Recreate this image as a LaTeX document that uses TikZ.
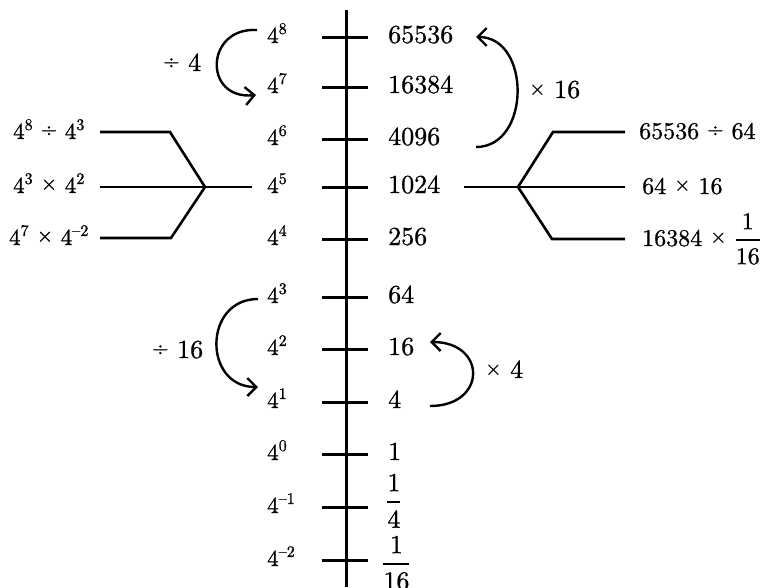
\documentclass[tikz,border=0pt]{standalone}
\usepackage{amsmath}
\usepackage{fontspec}
\setmainfont{lmroman10-regular.otf}[FakeBold=0.9]
\usetikzlibrary{arrows.meta}
\newcommand\pw[2]{4\textsuperscript{#2}}
\newcommand\tms{\raisebox{3pt}{\fontsize{21}{21}\selectfont ×}}
\newcommand\dvd{\raisebox{3pt}{\fontsize{21}{21}\selectfont ÷}}
\newcommand\frc[2]{$\genfrac{}{}{2.4pt}{0}{\text{#1}}{\text{#2}}$}
\begin{document}
\begin{tikzpicture}[x=1pt,y=-1pt,
  lab/.style={inner sep=0pt,font=\fontsize{26}{30}\selectfont},
  side/.style={inner sep=0pt,font=\fontsize{24}{28}\selectfont},
  pow/.style={inner sep=0pt,font=\fontsize{23}{27}\selectfont},
  axisline/.style={line width=3pt},
  tickline/.style={line width=3pt},
  branch/.style={line width=2.6pt},
  arr/.style={line width=2.4pt,-{Straight Barb[length=9pt,width=18pt]}}]
\useasboundingbox (0,0) rectangle (762,587);
% axis
\coordinate (top) at (346,10);
\coordinate (bot) at (346,587);
\draw[axisline] (top) -- (bot);
% ticks
\foreach \n/\yy in {8/37,7/87,6/139,5/187,4/239,3/297,2/349,1/402,0/454,m1/507,m2/560}{
  \coordinate (t\n) at (346,\yy);
  \draw[tickline] ([xshift=-24pt]t\n) -- ([xshift=22pt]t\n);
}
% left power labels
\node[pow,anchor=base west] (l8) at (267,43) {\pw{4}{8}};
\node[pow,anchor=base west] (l7) at (267,93) {\pw{4}{7}};
\node[pow,anchor=base west] (l6) at (267,145) {\pw{4}{6}};
\node[pow,anchor=base west] (l5) at (267,193) {\pw{4}{5}};
\node[pow,anchor=base west] (l4) at (267,245) {\pw{4}{4}};
\node[pow,anchor=base west] (l3) at (267,303) {\pw{4}{3}};
\node[pow,anchor=base west] (l2) at (267,355) {\pw{4}{2}};
\node[pow,anchor=base west] (l1) at (267,408) {\pw{4}{1}};
\node[pow,anchor=base west] (l0) at (267,460) {\pw{4}{0}};
\node[pow,anchor=base west] (lm1) at (267,513) {\pw{4}{\textendash1}};
\node[pow,anchor=base west] (lm2) at (267,566) {\pw{4}{\textendash2}};
% right value labels
\node[lab,anchor=base west] (r8) at (388,43) {65536};
\node[lab,anchor=base west] (r7) at (388,93) {16384};
\node[lab,anchor=base west] (r6) at (388,145) {4096};
\node[lab,anchor=base west] (r5) at (388,193) {1024};
\node[lab,anchor=base west] (r4) at (388,245) {256};
\node[lab,anchor=base west] (r3) at (388,303) {64};
\node[lab,anchor=base west] (r2) at (388,355) {16};
\node[lab,anchor=base west] (r1) at (388,408) {4};
\node[lab,anchor=base west] (r0) at (388,460) {1};
\node[lab,anchor=base west] (rm1) at (386,508) {\frc{1}{4}};
\node[lab,anchor=base west] (rm2) at (382,570) {\frc{1}{16}};
% curved arrows
\draw[arr] ([shift={(-10,-13)}]l8.base west) .. controls +(-52,-3) and +(-53,5) .. ([shift={(-11,2)}]l7.base west);
\node[lab,anchor=base west] (d4) at (163,71) {\dvd{} 4};
\draw[arr] ([shift={(88,2)}]r6.base west) .. controls +(55,0) and +(55,0) .. ([shift={(88,-6)}]r8.base west);
\node[lab,anchor=base west] (m16) at (529,98) {\tms{} 16};
\draw[arr] ([shift={(-9,-4)}]l3.base west) .. controls +(-55,0) and +(-55,0) .. ([shift={(-9,-21)}]l1.base west);
\node[lab,anchor=base west] (d16) at (152,358) {\dvd{} 16};
\draw[arr] ([shift={(42,-2)}]r1.base west) .. controls +(57,0) and +(57,0) .. ([shift={(42,-13)}]r2.base west);
\node[lab,anchor=base west] (m4) at (485,378) {\tms{} 4};
% left branch
\node[pow,anchor=base] (bl1) at (49,139) {\pw{4}{8} \dvd{} \pw{4}{3}};
\node[pow,anchor=base] (bl2) at (49,193) {\pw{4}{3} \tms{} \pw{4}{2}};
\node[pow,anchor=base] (bl3) at (49,245) {\pw{4}{7} \tms{} \pw{4}{\textendash2}};
\coordinate (lj) at (205,187);
\coordinate (la1) at (100,132);
\coordinate (lb1) at (170,132);
\coordinate (la2) at (100,187);
\coordinate (lb2) at (252,187);
\coordinate (la3) at (100,238);
\coordinate (lb3) at (171,238);
\draw[branch] (la1) -- (lb1) -- (lj);
\draw[branch] (la2) -- (lb2);
\draw[branch] (la3) -- (lb3) -- (lj);
% right branch
\node[side,anchor=base west] (br1) at (639,139) {65536 \dvd{} 64};
\node[side,anchor=base west] (br2) at (642,194) {64 \tms{} 16};
\node[side,anchor=base west] (br3) at (642,246) {16384 \tms{} \frc{1}{16}};
\coordinate (rj) at (518,187);
\coordinate (ra2) at (464,187);
\coordinate (rb2) at (625,187);
\coordinate (ra1) at (553,132);
\coordinate (rb1) at (625,132);
\coordinate (ra3) at (552,239);
\coordinate (rb3) at (625,239);
\draw[branch] (ra2) -- (rb2);
\draw[branch] (rj) -- (ra1) -- (rb1);
\draw[branch] (rj) -- (ra3) -- (rb3);
\end{tikzpicture}
\end{document}
